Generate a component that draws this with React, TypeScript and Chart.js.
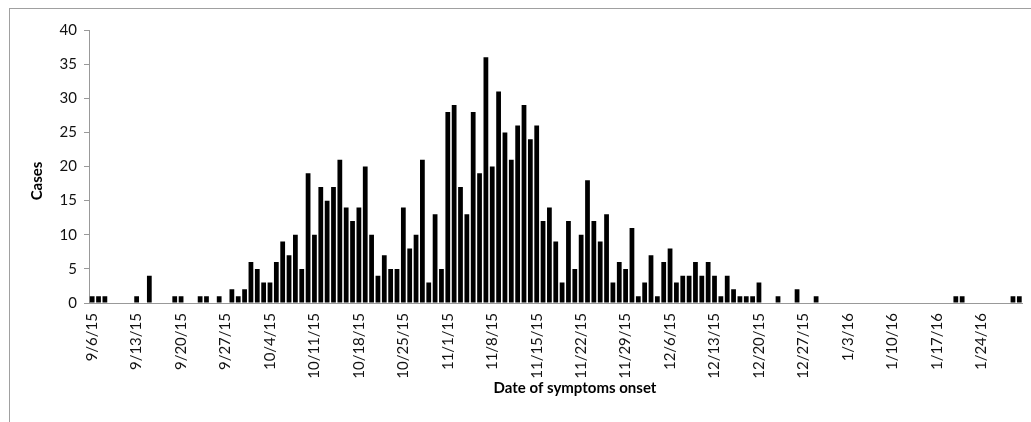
import React, { useEffect, useRef } from "react";
import { Chart, registerables } from "chart.js";

Chart.register(...registerables);

// Categories: one per day, 9/6/15 .. 1/30/16
const SEP_DAYS = ["9/6/15","9/7/15","9/8/15","9/9/15","9/10/15","9/11/15","9/12/15","9/13/15","9/14/15","9/15/15","9/16/15","9/17/15","9/18/15","9/19/15","9/20/15","9/21/15","9/22/15","9/23/15","9/24/15","9/25/15","9/26/15","9/27/15","9/28/15","9/29/15","9/30/15"];
const OCT_DAYS = ["10/1/15","10/2/15","10/3/15","10/4/15","10/5/15","10/6/15","10/7/15","10/8/15","10/9/15","10/10/15","10/11/15","10/12/15","10/13/15","10/14/15","10/15/15","10/16/15","10/17/15","10/18/15","10/19/15","10/20/15","10/21/15","10/22/15","10/23/15","10/24/15","10/25/15","10/26/15","10/27/15","10/28/15","10/29/15","10/30/15","10/31/15"];
const NOV_DAYS = ["11/1/15","11/2/15","11/3/15","11/4/15","11/5/15","11/6/15","11/7/15","11/8/15","11/9/15","11/10/15","11/11/15","11/12/15","11/13/15","11/14/15","11/15/15","11/16/15","11/17/15","11/18/15","11/19/15","11/20/15","11/21/15","11/22/15","11/23/15","11/24/15","11/25/15","11/26/15","11/27/15","11/28/15","11/29/15","11/30/15"];
const DEC_DAYS = ["12/1/15","12/2/15","12/3/15","12/4/15","12/5/15","12/6/15","12/7/15","12/8/15","12/9/15","12/10/15","12/11/15","12/12/15","12/13/15","12/14/15","12/15/15","12/16/15","12/17/15","12/18/15","12/19/15","12/20/15","12/21/15","12/22/15","12/23/15","12/24/15","12/25/15","12/26/15","12/27/15","12/28/15","12/29/15","12/30/15","12/31/15"];
const JAN_DAYS = ["1/1/16","1/2/16","1/3/16","1/4/16","1/5/16","1/6/16","1/7/16","1/8/16","1/9/16","1/10/16","1/11/16","1/12/16","1/13/16","1/14/16","1/15/16","1/16/16","1/17/16","1/18/16","1/19/16","1/20/16","1/21/16","1/22/16","1/23/16","1/24/16","1/25/16","1/26/16","1/27/16","1/28/16","1/29/16","1/30/16"];

// Cases per day
const SEP_CASES = [1,1,1,0,0,0,0,1,0,4,0,0,0,1,1,0,0,1,1,0,1,0,2,1,2];
const OCT_CASES = [6,5,3,3,6,9,7,10,5,19,10,17,15,17,21,14,12,14,20,10,4,7,5,5,14,8,10,21,3,13,5];
const NOV_CASES = [28,29,17,13,28,19,36,20,31,25,21,26,29,24,26,12,14,9,3,12,5,10,18,12,9,13,3,6,5,11];
const DEC_CASES = [1,3,7,1,6,8,3,4,4,6,4,6,4,1,4,2,1,1,1,3,0,0,1,0,0,2,0,0,1,0,0];
const JAN_CASES = [0,0,0,0,0,0,0,0,0,0,0,0,0,0,0,0,0,0,0,1,1,0,0,0,0,0,0,0,1,1];

// Dates that carry a tick label
const TICK_LABELS = ["9/6/15","9/13/15","9/20/15","9/27/15","10/4/15","10/11/15","10/18/15","10/25/15","11/1/15","11/8/15","11/15/15","11/22/15","11/29/15","12/6/15","12/13/15","12/20/15","12/27/15","1/3/16","1/10/16","1/17/16","1/24/16"];

const Y_TITLE = "Cases";
const X_TITLE = "Date of symptoms onset";

const CATEGORIES = [...SEP_DAYS, ...OCT_DAYS, ...NOV_DAYS, ...DEC_DAYS, ...JAN_DAYS];
const CASES = [...SEP_CASES, ...OCT_CASES, ...NOV_CASES, ...DEC_CASES, ...JAN_CASES];

const FONT = "Lato, 'Open Sans', sans-serif";

const titlePlugin = {
  id: "axisTitles",
  afterDraw(chart: any) {
    const { ctx } = chart;
    ctx.save();
    ctx.fillStyle = "#000";
    ctx.font = `bold 15px ${FONT}`;
    ctx.textAlign = "center";
    ctx.textBaseline = "middle";
    ctx.fillText(X_TITLE, 575, 388);
    ctx.translate(37, 181);
    ctx.rotate(-Math.PI / 2);
    ctx.fillText(Y_TITLE, 0, 0);
    ctx.restore();
  },
};

export default function App() {
  const ref = useRef<HTMLCanvasElement | null>(null);

  useEffect(() => {
    if (!ref.current) return;
    const chart = new Chart(ref.current, {
      type: "bar",
      data: {
        labels: CATEGORIES,
        datasets: [
          {
            label: Y_TITLE,
            data: CASES,
            backgroundColor: "#000",
            borderWidth: 0,
            categoryPercentage: 1,
            barPercentage: 0.75,
          },
        ],
      },
      options: {
        responsive: false,
        animation: false,
        devicePixelRatio: 1,
        layout: { padding: { left: 0, right: 8.5, top: 30, bottom: 0 } },
        plugins: {
          legend: { display: false },
          tooltip: { enabled: false },
        },
        scales: {
          x: {
            grid: { display: false, drawTicks: false },
            border: { display: true, color: "#999", width: 1 },
            ticks: {
              autoSkip: false,
              minRotation: 90,
              maxRotation: 90,
              padding: 10,
              color: "#111",
              font: { family: FONT, size: 15 },
              callback: (_v: any, idx: number) =>
                TICK_LABELS.includes(CATEGORIES[idx]) ? CATEGORIES[idx] : "",
            },
            afterFit: (scale: any) => {
              scale.height = 119;
              scale.paddingLeft = 0;
              scale.paddingRight = 0;
            },
          },
          y: {
            min: 0,
            max: 40,
            grid: { display: true, drawOnChartArea: false, drawTicks: true, tickLength: 5, color: "#999" },
            border: { display: true, color: "#999", width: 1 },
            ticks: {
              stepSize: 5,
              padding: 7,
              color: "#111",
              font: { family: FONT, size: 15 },
            },
            afterFit: (scale: any) => {
              scale.width = 89;
            },
          },
        },
      },
      plugins: [titlePlugin],
    });
    return () => chart.destroy();
  }, []);

  return (
    <>
      <div
        style={{
          position: "fixed",
          left: 9,
          top: 8,
          right: -20,
          bottom: -20,
          borderTop: "1px solid #a0a0a0",
          borderLeft: "1px solid #a0a0a0",
        }}
      />
      <div style={{ position: "fixed", left: 0, top: 0, width: 1031, height: 422 }}>
        <canvas ref={ref} width={1031} height={422} style={{ display: "block" }} />
      </div>
    </>
  );
}
